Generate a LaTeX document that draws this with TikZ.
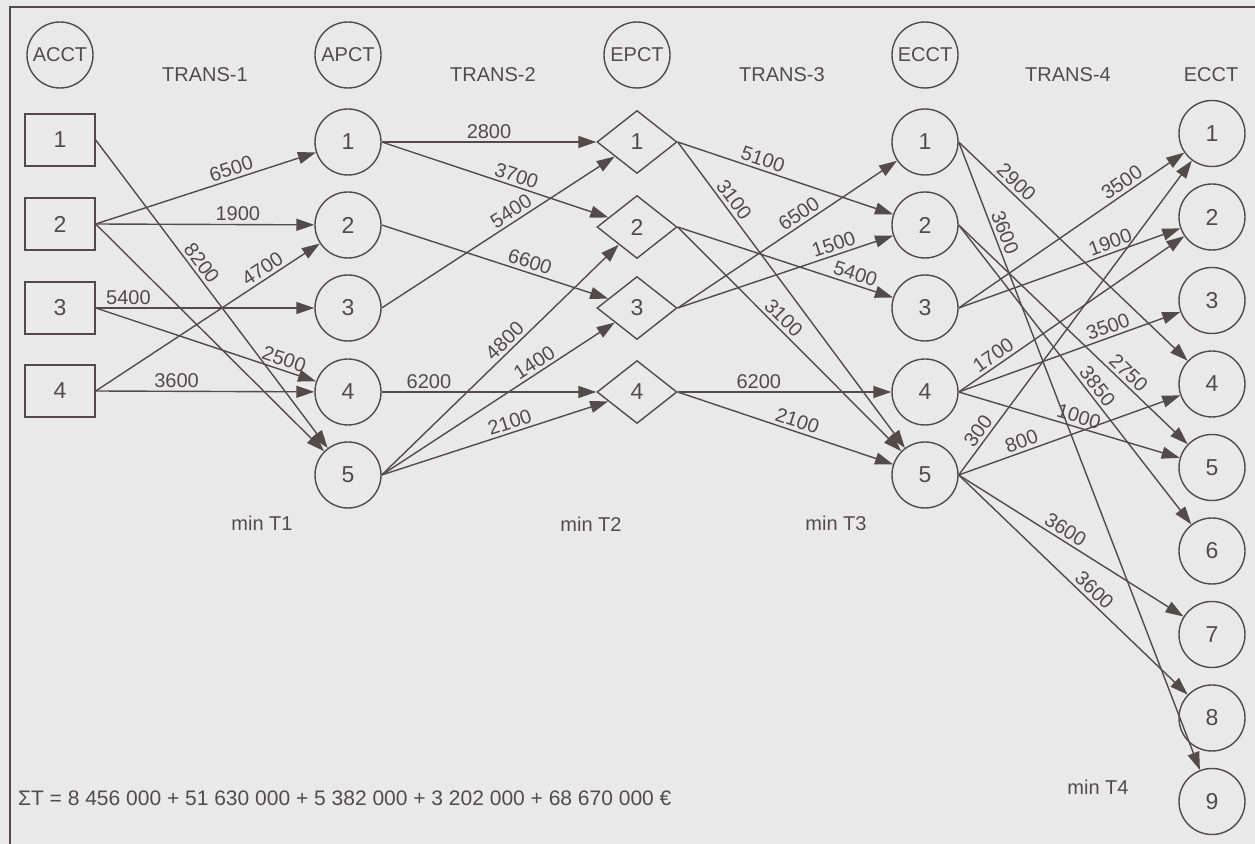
\documentclass[tikz,border=0pt]{standalone}
\usepackage{fontspec}
\setmainfont{Liberation Sans}
\usetikzlibrary{arrows.meta,shapes.geometric}

\definecolor{ink}{RGB}{84,74,76}
\definecolor{paper}{RGB}{234,233,234}

\tikzset{
  place/.style={circle,draw=ink,line width=0.7pt,minimum size=33pt,inner sep=0pt,
    text=ink,font=\fontsize{11.5}{12}\selectfont},
  depot/.style={rectangle,draw=ink,line width=0.7pt,minimum width=35pt,minimum height=26pt,
    inner sep=0pt,text=ink,font=\fontsize{11.5}{12}\selectfont},
  hub/.style={diamond,draw=ink,line width=0.7pt,minimum width=40pt,minimum height=31.5pt,
    inner sep=0pt,text=ink,font=\fontsize{11.5}{12}\selectfont},
  title/.style={place,font=\fontsize{10}{12}\selectfont},
  flow/.style={draw=ink,line width=0.7pt,-{Triangle[length=9pt,width=6pt]}},
  qty/.style={sloped,above,text=ink,inner sep=1.5pt,font=\fontsize{10}{12}\selectfont},
  head/.style={text=ink,font=\fontsize{10}{12}\selectfont},
}

\begin{document}
\begin{tikzpicture}[x=0.5pt,y=-0.5pt]
	% paper and frame
	\fill[paper] (0,0) rectangle (1255,844);
	\useasboundingbox (0,0) rectangle (1255,844);
	\draw[ink,line width=0.8pt] (10,844) -- (10,7) -- (1255,7);
	% column headings
	\node[title] (acct) at (60,55) {ACCT};
	\node[head] (trans1) at (205,75) {TRANS-1};
	\node[title] (apct) at (348,55) {APCT};
	\node[head] (trans2) at (493,75) {TRANS-2};
	\node[title] (epct) at (637,55) {EPCT};
	\node[head] (trans3) at (782,75) {TRANS-3};
	\node[title] (ecct) at (925,55) {ECCT};
	\node[head] (trans4) at (1068,75) {TRANS-4};
	\node[head] (ecctend) at (1211,75) {ECCT};
	% terminals of each stage
	\foreach \i/\y in {1/140,2/224,3/308,4/391}
		\node[depot] (s\i) at (60,\y) {\i};
	\foreach \i/\y in {1/142,2/225,3/308,4/392,5/475}
		\node[place] (a\i) at (348,\y) {\i};
	\foreach \i/\y in {1/142,2/227,3/308,4/392}
		\node[hub] (e\i) at (637,\y) {\i};
	\foreach \i/\y in {1/142,2/225,3/308,4/392,5/475}
		\node[place] (c\i) at (925,\y) {\i};
	\foreach \i in {1,...,9}
		\node[place] (r\i) at (1212,{50+83.5*\i}) {\i};
	% trans-1
	\draw[flow] (s2.east) -- node[qty,pos=0.63] {6500} (a1);
	\draw[flow] (s2.east) -- node[qty,pos=0.65] {1900} (a2);
	\draw[flow] (s1.east) -- node[qty,pos=0.42] {8200} (a5);
	\draw[flow] (s2.east) -- (a5);
	\draw[flow] (s3.east) -- node[qty,pos=0.15] {5400} (a3);
	\draw[flow] (s3.east) -- node[qty,pos=0.84] {2500} (a4);
	\draw[flow] (s4.east) -- node[qty,pos=0.37] {3600} (a4);
	\draw[flow] (s4.east) -- node[qty,pos=0.77] {4700} (a2);
	% trans-2
	\draw[flow] (a1.east) -- node[qty,pos=0.5] {2800} (e1);
	\draw[flow] (a1.east) -- node[qty,pos=0.58] {3700} (e2);
	\draw[flow] (a3.east) -- node[qty,pos=0.58] {5400} (e1);
	\draw[flow] (a2.east) -- node[qty,pos=0.64] {6600} (e3);
	\draw[flow] (a5.east) -- node[qty,pos=0.55] {4800} (e2);
	\draw[flow] (a5.east) -- node[qty,pos=0.68] {1400} (e3);
	\draw[flow] (a5.east) -- node[qty,pos=0.58] {2100} (e4);
	\draw[flow] (a4.east) -- node[qty,pos=0.22] {6200} (e4);
	% trans-3
	\draw[flow] (e1.east) -- node[qty,pos=0.38] {5100} (c2);
	\draw[flow] (e1.east) -- node[qty,pos=0.21] {3100} (c5);
	\draw[flow] (e2.east) -- node[qty,pos=0.81] {5400} (c3);
	\draw[flow] (e2.east) -- node[qty,pos=0.44] {3100} (c5);
	\draw[flow] (e3.east) -- node[qty,pos=0.58] {6500} (c1);
	\draw[flow] (e3.east) -- node[qty,pos=0.74] {1500} (c2);
	\draw[flow] (e4.east) -- node[qty,pos=0.38] {6200} (c4);
	\draw[flow] (e4.east) -- node[qty,pos=0.54] {2100} (c5);
	% trans-4
	\draw[flow] (c1.east) -- node[qty,pos=0.22] {2900} (r4);
	\draw[flow] (c1.east) -- node[qty,pos=0.15] {3600} (r9);
	\draw[flow] (c2.east) -- node[qty,pos=0.71] {2750} (r5);
	\draw[flow] (c2.east) -- node[qty,pos=0.56] {3850} (r6);
	\draw[flow] (c3.east) -- node[qty,pos=0.75] {3500} (r1);
	\draw[flow] (c3.east) -- node[qty,pos=0.70] {1900} (r2);
	\draw[flow] (c4.east) -- node[qty,pos=0.18] {1700} (r2);
	\draw[flow] (c4.east) -- node[qty,pos=0.69] {3500} (r3);
	\draw[flow] (c4.east) -- node[qty,pos=0.53] {1000} (r5);
	\draw[flow] (c5.east) -- node[qty,pos=0.12] {300} (r1);
	\draw[flow] (c5.east) -- node[qty,pos=0.30] {800} (r4);
	\draw[flow] (c5.east) -- node[qty,pos=0.45] {3600} (r7);
	\draw[flow] (c5.east) -- node[qty,pos=0.56] {3600} (r8);
	% stage objectives and total
	\node[head] (mint1) at (262,523) {min T1};
	\node[head] (mint2) at (591,524) {min T2};
	\node[head] (mint3) at (836,523) {min T3};
	\node[head] (mint4) at (1098,787) {min T4};
	\node[head,anchor=west,font=\fontsize{10.5}{12}\selectfont] (total) at (11,798)
		{ΣT = 8 456 000 + 51 630 000 + 5 382 000 + 3 202 000 + 68 670 000 €};
\end{tikzpicture}
\end{document}
